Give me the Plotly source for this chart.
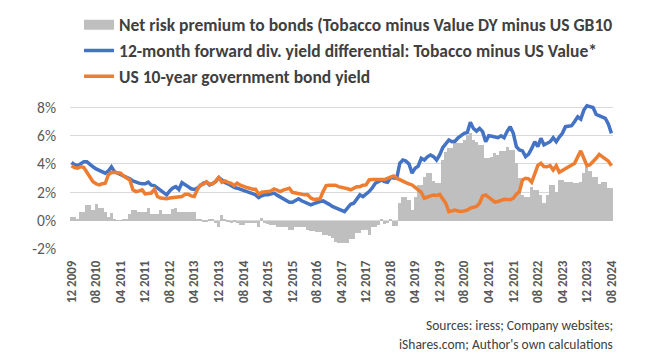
import pandas as pd
import plotly.graph_objects as go

# Monthly categories Dec 2009 .. Aug 2024
months = pd.date_range("2009-12-01", "2024-08-01", freq="MS")
categories = [d.strftime("%m %Y") for d in months]
tick_labels = categories[::8]

blue_fwd_dy_diff = [
    4.10, 3.95, 3.88, 4.05, 4.16, 4.15, 3.95, 3.80, 3.65, 3.55, 3.40, 3.35,
    3.50, 3.80, 3.45, 3.35, 3.30, 3.20, 3.10, 2.95, 2.80, 2.70, 2.65, 2.60,
    2.60, 2.72, 2.50, 2.47, 2.30, 2.15, 1.95, 1.82, 2.10, 2.30, 2.40, 2.20,
    2.68, 2.50, 2.40, 2.25, 2.20, 2.30, 2.45, 2.65, 2.71, 2.52, 2.62, 2.75,
    3.04, 2.85, 2.70, 2.60, 2.47, 2.35, 2.29, 2.20, 2.17, 2.05, 1.94, 1.90,
    1.82, 1.63, 1.75, 1.82, 1.82, 1.88, 1.94, 1.80, 1.66, 1.55, 1.45, 1.30,
    1.30, 1.45, 1.54, 1.40, 1.30, 1.20, 1.11, 1.20, 1.30, 1.35, 1.39, 1.30,
    1.15, 1.00, 0.90, 0.85, 0.70, 0.64, 0.90, 1.16, 1.23, 1.50, 1.82, 1.70,
    1.85, 2.05, 2.30, 2.64, 2.75, 2.87, 2.75, 2.71, 3.04, 3.00, 2.99, 4.05,
    4.28, 4.20, 4.00, 3.35, 3.70, 3.85, 4.40, 4.28, 4.50, 4.63, 4.52, 4.28,
    4.63, 5.15, 5.45, 5.69, 5.57, 5.60, 5.85, 6.04, 6.16, 6.22, 6.94, 6.50,
    6.32, 6.51, 6.28, 5.57, 5.99, 5.95, 5.92, 5.85, 5.99, 5.85, 6.30, 6.63,
    6.16, 5.22, 4.99, 4.92, 4.52, 4.70, 5.10, 5.57, 5.22, 5.81, 5.34, 5.45,
    5.57, 5.85, 5.57, 5.90, 6.16, 6.63, 6.65, 6.70, 7.00, 7.33, 7.16, 7.80,
    8.10, 8.05, 7.98, 7.50, 7.40, 7.30, 7.22, 6.80, 6.16,
]

us_10y_yield = [
    3.88, 3.75, 3.70, 3.81, 3.75, 3.40, 2.99, 2.75, 2.60, 2.52, 2.60, 2.64,
    3.23, 3.40, 3.41, 3.38, 3.35, 3.15, 3.00, 2.87, 2.17, 2.05, 2.10, 2.17,
    1.89, 1.90, 1.95, 2.22, 1.70, 1.60, 1.54, 1.54, 1.60, 1.63, 1.63, 1.63,
    1.70, 1.87, 1.87, 1.75, 1.70, 2.17, 2.52, 2.57, 2.75, 2.57, 2.60, 2.80,
    3.04, 2.71, 2.80, 2.70, 2.64, 2.47, 2.64, 2.50, 2.40, 2.35, 2.29, 2.22,
    2.22, 1.87, 2.00, 2.00, 2.05, 2.10, 2.24, 2.15, 2.05, 2.15, 2.20, 2.29,
    2.00, 1.94, 1.90, 1.82, 1.82, 1.82, 1.60, 1.50, 1.54, 1.54, 2.05, 2.47,
    2.50, 2.52, 2.50, 2.40, 2.36, 2.30, 2.25, 2.17, 2.30, 2.40, 2.40, 2.50,
    2.52, 2.87, 2.90, 2.90, 2.90, 2.95, 2.90, 2.99, 3.05, 3.16, 3.00, 2.87,
    2.75, 2.68, 2.60, 2.52, 2.35, 2.17, 2.00, 1.58, 1.70, 1.75, 1.80, 1.77,
    1.85, 1.50, 1.23, 0.64, 0.70, 0.75, 0.68, 0.64, 0.69, 0.75, 0.88, 0.93,
    1.00, 1.23, 1.75, 1.82, 1.65, 1.50, 1.30, 1.35, 1.44, 1.51, 1.50, 1.47,
    1.58, 1.87, 2.05, 2.87, 2.99, 2.95, 2.71, 3.35, 3.90, 4.05, 3.81, 3.80,
    3.88, 3.58, 3.88, 3.41, 3.55, 3.65, 3.80, 3.95, 4.05, 4.50, 4.92, 4.40,
    3.88, 3.95, 4.16, 4.40, 4.68, 4.50, 4.40, 4.20, 3.88,
]

net_risk_premium = [
    0.29, 0.29, 0.12, 0.64, 0.64, 1.11, 1.11, 0.76, 1.15, 0.88, 0.88, 0.64,
    0.29, 0.57, 0.05, 0.03, 0.03, 0.05, 0.12, 0.50, 0.76, 0.76, 0.60, 0.60,
    0.60, 0.88, 0.50, 0.50, 0.50, 0.76, 0.50, 0.50, 0.50, 0.82, 0.90, 0.60,
    0.60, 0.60, 0.60, 0.60, 0.64, 0.12, 0.12, -0.07, -0.07, 0.05, 0.05, -0.19,
    -0.42, 0.40, 0.05, -0.10, -0.15, -0.10, -0.20, -0.30, -0.30, -0.19, -0.19, -0.19,
    -0.19, -0.42, 0.17, -0.20, -0.25, -0.30, -0.30, -0.42, -0.42, -0.42, -0.45, -0.66,
    -0.66, -0.42, -0.42, -0.42, -0.45, -0.66, -0.70, -0.75, -0.78, -0.78, -1.00, -1.00,
    -1.10, -1.24, -1.48, -1.57, -1.60, -1.57, -1.60, -1.30, -1.30, -0.90, -0.90, -0.66,
    -0.66, -1.00, -0.42, -0.42, -0.30, 0.05, -0.25, -0.20, 0.12, -0.40, -0.40, 1.23,
    1.70, 1.70, 1.46, 0.76, 1.70, 2.52, 2.52, 3.10, 3.34, 3.34, 2.80, 2.64,
    2.64, 4.28, 4.87, 5.10, 5.10, 5.46, 5.46, 5.46, 5.70, 6.04, 6.20, 5.70,
    5.57, 5.34, 5.34, 4.40, 4.40, 4.52, 4.80, 4.60, 4.90, 4.90, 5.20, 5.00,
    5.00, 4.05, 3.00, 1.82, 1.70, 1.70, 2.40, 2.17, 2.17, 1.82, 1.23, 1.82,
    2.52, 2.52, 2.05, 2.87, 2.87, 2.75, 2.71, 2.71, 2.64, 2.64, 2.75, 3.34,
    3.80, 3.50, 3.10, 3.10, 2.60, 2.70, 2.75, 2.33, 2.33,
]

y_ticks = [-2, 0, 2, 4, 6, 8]
y_tick_text = [f"{v}%" for v in y_ticks]

FONT = "Carlito, Lato, 'Liberation Sans', sans-serif"
BAR_NAME = "Net risk premium to bonds (Tobacco minus Value DY minus US GB10"

fig = go.Figure()
fig.add_trace(go.Bar(
    x=categories, y=net_risk_premium, name=BAR_NAME,
    marker=dict(color="#BFBFBF", line=dict(width=0)),
    legendgroup="premium", showlegend=False,
))
# legend entry for the bars, drawn as a wide grey swatch like the original
fig.add_trace(go.Scatter(
    x=[None], y=[None], mode="lines", name=BAR_NAME,
    line=dict(color="#BFBFBF", width=10),
    legendgroup="premium", showlegend=True, hoverinfo="skip",
))
fig.add_trace(go.Scatter(
    x=categories, y=blue_fwd_dy_diff, mode="lines",
    name="12-month forward div. yield differential: Tobacco minus US Value*",
    line=dict(color="#4472C4", width=3.5),
))
fig.add_trace(go.Scatter(
    x=categories, y=us_10y_yield, mode="lines",
    name="US 10-year government bond yield",
    line=dict(color="#ED7D31", width=3.5),
))

# The page body adds an 8px offset; figure is sized to fit the 660x361 window.
fig.update_layout(
    width=644, height=345,
    margin=dict(l=62, r=39, t=95, b=103.7, autoexpand=False),
    paper_bgcolor="white", plot_bgcolor="white",
    bargap=0,
    showlegend=True,
    legend=dict(
        x=0.0166, y=1.659, xanchor="left", yanchor="top",
        font=dict(family=FONT, size=17.5, color="#404040", weight="bold"),
        bgcolor="rgba(0,0,0,0)", traceorder="normal", tracegroupgap=0,
    ),
    font=dict(family=FONT, color="#595959"),
)
fig.update_yaxes(
    range=[-2, 8.3], tickvals=y_ticks, ticktext=y_tick_text,
    showgrid=True, gridcolor="#D9D9D9", gridwidth=1,
    zeroline=False, showline=False,
    tickfont=dict(family=FONT, size=15.5, color="#595959"),
    ticklabelstandoff=13,
)
fig.update_xaxes(
    type="category", range=[-0.5, len(categories) - 0.5],
    tickvals=tick_labels, ticktext=tick_labels, tickangle=-90,
    showgrid=False, zeroline=False, showline=False,
    tickfont=dict(family=FONT, size=13, color="#595959", weight="bold"),
    ticklabelstandoff=8,
)
fig.add_annotation(
    text="Sources: iress; Company websites;", xref="paper", yref="paper",
    x=1.0037, y=(249.3 - 326) / 146.6, xanchor="right", yanchor="middle",
    showarrow=False, font=dict(family=FONT, size=13.5, color="#404040"),
)
fig.add_annotation(
    text="iShares.com; Author's own calculations", xref="paper", yref="paper",
    x=1.0037, y=(249.3 - 345) / 146.6, xanchor="right", yanchor="middle",
    showarrow=False, font=dict(family=FONT, size=13.5, color="#404040"),
)
fig.write_html("out.html")
